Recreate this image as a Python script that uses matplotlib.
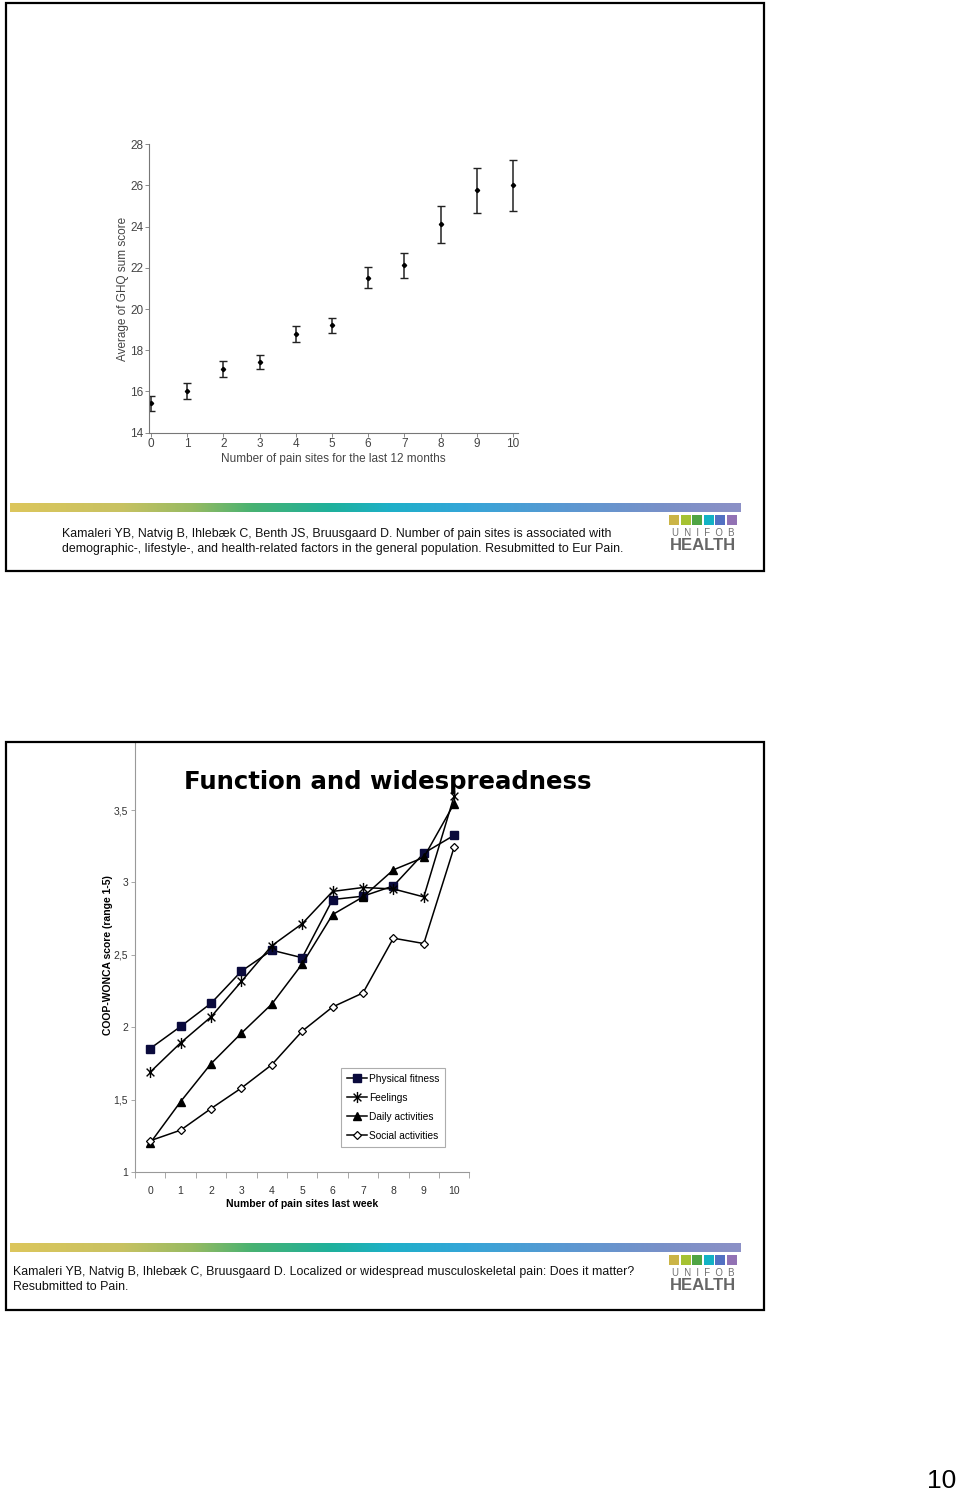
import matplotlib
matplotlib.use("Agg")
import matplotlib.pyplot as plt
import numpy as np
from matplotlib import font_manager
from matplotlib.colors import LinearSegmentedColormap
from matplotlib.patches import Rectangle
from matplotlib.path import Path

# ─── data ────────────────────────────────────────────────────────────────────
ghq_sites = [0, 1, 2, 3, 4, 5, 6, 7, 8, 9, 10]
ghq_mean = [15.46, 16.02, 17.07, 17.45, 18.81, 19.21, 21.49, 22.12, 24.13, 25.78, 26.01]
ghq_upper = [15.80, 16.39, 17.46, 17.77, 19.18, 19.57, 22.03, 22.74, 25.02, 26.86, 27.24]
ghq_lower = [15.07, 15.65, 16.72, 17.09, 18.39, 18.82, 21.02, 21.51, 23.22, 24.65, 24.76]

week_sites = [0, 1, 2, 3, 4, 5, 6, 7, 8, 9, 10]
physical = [1.853, 2.005, 2.165, 2.387, 2.532, 2.480, 2.882, 2.905, 2.976, 3.202, 3.326]
feelings = [1.690, 1.892, 2.071, 2.316, 2.563, 2.715, 2.938, 2.965, 2.955, 2.900, 3.598]
daily = [1.200, 1.486, 1.748, 1.959, 2.160, 2.437, 2.778, 2.900, 3.087, 3.173, 3.545]
social = [1.216, 1.289, 1.438, 1.580, 1.741, 1.973, 2.140, 2.237, 2.615, 2.578, 3.245]
series_labels = ["Physical fitness", "Feelings", "Daily activities", "Social activities"]
y_ticks2 = [1, 1.5, 2, 2.5, 3, 3.5]
y_ticklabels2 = ["1", "1,5", "2", "2,5", "3", "3,5"]

caption1 = ("Kamaleri YB, Natvig B, Ihlebæk C, Benth JS, Bruusgaard D. Number of pain sites is associated with\n"
            "demographic-, lifestyle-, and health-related factors in the general population. Resubmitted to Eur Pain.")
caption2 = ("Kamaleri YB, Natvig B, Ihlebæk C, Bruusgaard D. Localized or widespread musculoskeletal pain: Does it matter?\n"
            "Resubmitted to Pain.")

# ─── mise en page (pixels) ───────────────────────────────────────────────────
W, H = 960, 1494
names = {f.name for f in font_manager.fontManager.ttflist}
NARROW = "Liberation Sans Narrow" if "Liberation Sans Narrow" in names else "Liberation Sans"
SANS = "Liberation Sans"

fig = plt.figure(figsize=(W / 100, H / 100), dpi=100)


def px_axes(left, top, right, bottom):
    return fig.add_axes([left / W, 1 - bottom / H, (right - left) / W, (bottom - top) / H])


# ── graphique 1 : GHQ ────────────────────────────────────────────────────────
ax1 = px_axes(148.7, 144.3, 518, 432.7)
yerr = [np.array(ghq_mean) - np.array(ghq_lower), np.array(ghq_upper) - np.array(ghq_mean)]
ax1.errorbar(ghq_sites, ghq_mean, yerr=yerr, fmt="D", ms=2.2, color="black",
             ecolor="#222222", elinewidth=1.1, capsize=3.2, capthick=1.0)
ax1.set_xlim(-0.064, 10.14)
ax1.set_ylim(14, 28)
ax1.set_xticks(ghq_sites)
ax1.set_yticks(range(14, 29, 2))
for s in ["top", "right"]:
    ax1.spines[s].set_visible(False)
for s in ["left", "bottom"]:
    ax1.spines[s].set_color("#777777")
    ax1.spines[s].set_linewidth(0.8)
ax1.tick_params(length=3, width=0.6, color="#777777", labelsize=8.5,
                labelcolor="#444444", pad=1)
for lab in ax1.get_xticklabels() + ax1.get_yticklabels():
    lab.set_family(SANS)
ax1.set_xlabel("Number of pain sites for the last 12 months", fontsize=8.5,
               color="#444444", family=SANS, labelpad=2)
ax1.set_ylabel("Average of GHQ sum score", fontsize=8.5, color="#444444",
               family=SANS, labelpad=1)
ax1.patch.set_alpha(0)

# ── graphique 2 : COOP-WONCA ─────────────────────────────────────────────────
ax2 = px_axes(135, 742, 469.4, 1172)
star = Path([(0, -1), (0, 1), (-0.7, -0.7), (0.7, 0.7), (-0.7, 0.7), (0.7, -0.7)],
            [Path.MOVETO, Path.LINETO, Path.MOVETO, Path.LINETO, Path.MOVETO, Path.LINETO])
styles = [
    dict(marker="s", ms=6, mfc="#0a0a3c", mec="#0a0a3c"),
    dict(marker=star, ms=8, mfc="none", mec="black", mew=1.0),
    dict(marker="^", ms=6, mfc="black", mec="black"),
    dict(marker="D", ms=4.2, mfc="white", mec="black", mew=0.9),
]
for vals, lab, st in zip([physical, feelings, daily, social], series_labels, styles):
    ax2.plot(week_sites, vals, color="black", lw=1.1, label=lab, **st)
ax2.set_xlim(-0.5, 10.5)
ax2.set_ylim(1, 3.97)
ax2.set_yticks(y_ticks2)
ax2.set_yticklabels(y_ticklabels2)
ax2.set_xticks(week_sites)
ax2.set_xticks(np.arange(-0.5, 10.6, 1), minor=True)
for s in ["top", "right"]:
    ax2.spines[s].set_visible(False)
for s in ["left", "bottom"]:
    ax2.spines[s].set_color("#999999")
    ax2.spines[s].set_linewidth(0.8)
ax2.tick_params(axis="y", length=3, width=0.6, color="#999999", labelsize=7.5,
                labelcolor="#333333", pad=2)
ax2.tick_params(axis="x", which="major", length=0, labelsize=7.5,
                labelcolor="#333333", pad=10)
ax2.tick_params(axis="x", which="minor", length=4, width=0.6, color="#999999")
for lab in ax2.get_xticklabels() + ax2.get_yticklabels():
    lab.set_family(SANS)
ax2.set_xlabel("Number of pain sites last week", fontsize=7.5, fontweight="bold",
               family=NARROW, labelpad=2)
ax2.patch.set_alpha(0)
leg = ax2.legend(loc="upper left", bbox_to_anchor=((341 - 135) / 334.4, 1 - (1068 - 742) / 430),
                 frameon=True, fancybox=False, prop=dict(family=NARROW, size=7.3),
                 handlelength=2.0, handletextpad=0.2, labelspacing=0.9,
                 borderpad=0.55, borderaxespad=0)
leg.get_frame().set_edgecolor("#999999")
leg.get_frame().set_linewidth(0.8)

# ── habillage des diapositives ───────────────────────────────────────────────
ov = fig.add_axes([0, 0, 1, 1])
ov.axis("off")

grad_cmap = LinearSegmentedColormap.from_list("bandeau", [
    (0.00, "#dcc65c"), (0.15, "#c8c262"), (0.25, "#96ba62"), (0.33, "#48b272"),
    (0.44, "#1eb09c"), (0.52, "#1eb0c8"), (0.62, "#34a6d8"), (0.76, "#5a98d2"),
    (0.90, "#7a90c8"), (1.00, "#8c90c6")])
logo_cols = ["#cbb446", "#a6c232", "#4fa444", "#12b2c4", "#5270c2", "#9272b4"]

for top, bottom, bar_y, logo_y, caption, cap_x, cap_y in [
        (3, 571, 503, 515, caption1, 62, 541.5),
        (742, 1310, 1243, 1255, caption2, 13, 1279.5)]:
    ov.add_patch(Rectangle((6, top), 758, bottom - top, fill=False, lw=1.6,
                           edgecolor="black"))
    ov.imshow(np.linspace(0, 1, 256)[None, :], cmap=grad_cmap, aspect="auto",
              extent=(10, 741, bar_y + 9, bar_y), interpolation="bilinear")
    for i, c in enumerate(logo_cols):
        ov.add_patch(Rectangle((669 + i * 11.5, logo_y), 10.3, 9.5, color=c, lw=0))
    ov.text(703, logo_y + 17.5, "U  N  I  F  O  B", ha="center", va="center",
            fontsize=6.9, color="#707070", family=SANS)
    ov.text(703, logo_y + 30.5, "HEALTH", ha="center", va="center", fontsize=12,
            fontweight="bold", color="#666666", family=NARROW)
    ov.text(cap_x, cap_y, caption, ha="left", va="center", fontsize=8.95,
            family=NARROW, linespacing=1.3, color="#111111")

fig.text(388 / W, 1 - 782 / H, "Function and widespreadness", ha="center",
         va="center", fontsize=17.6, fontweight="heavy", family="DejaVu Sans")
fig.text(108 / W, 1 - 955 / H, "COOP-WONCA score (range 1-5)", ha="center",
         va="center", rotation=90, fontsize=7.5, fontweight="bold", family=SANS)
fig.text(942 / W, 1 - 1481 / H, "10", ha="center", va="center", fontsize=19,
         family=SANS)

ov.set_xlim(0, W)
ov.set_ylim(H, 0)

fig.savefig("out.png", dpi=100)
